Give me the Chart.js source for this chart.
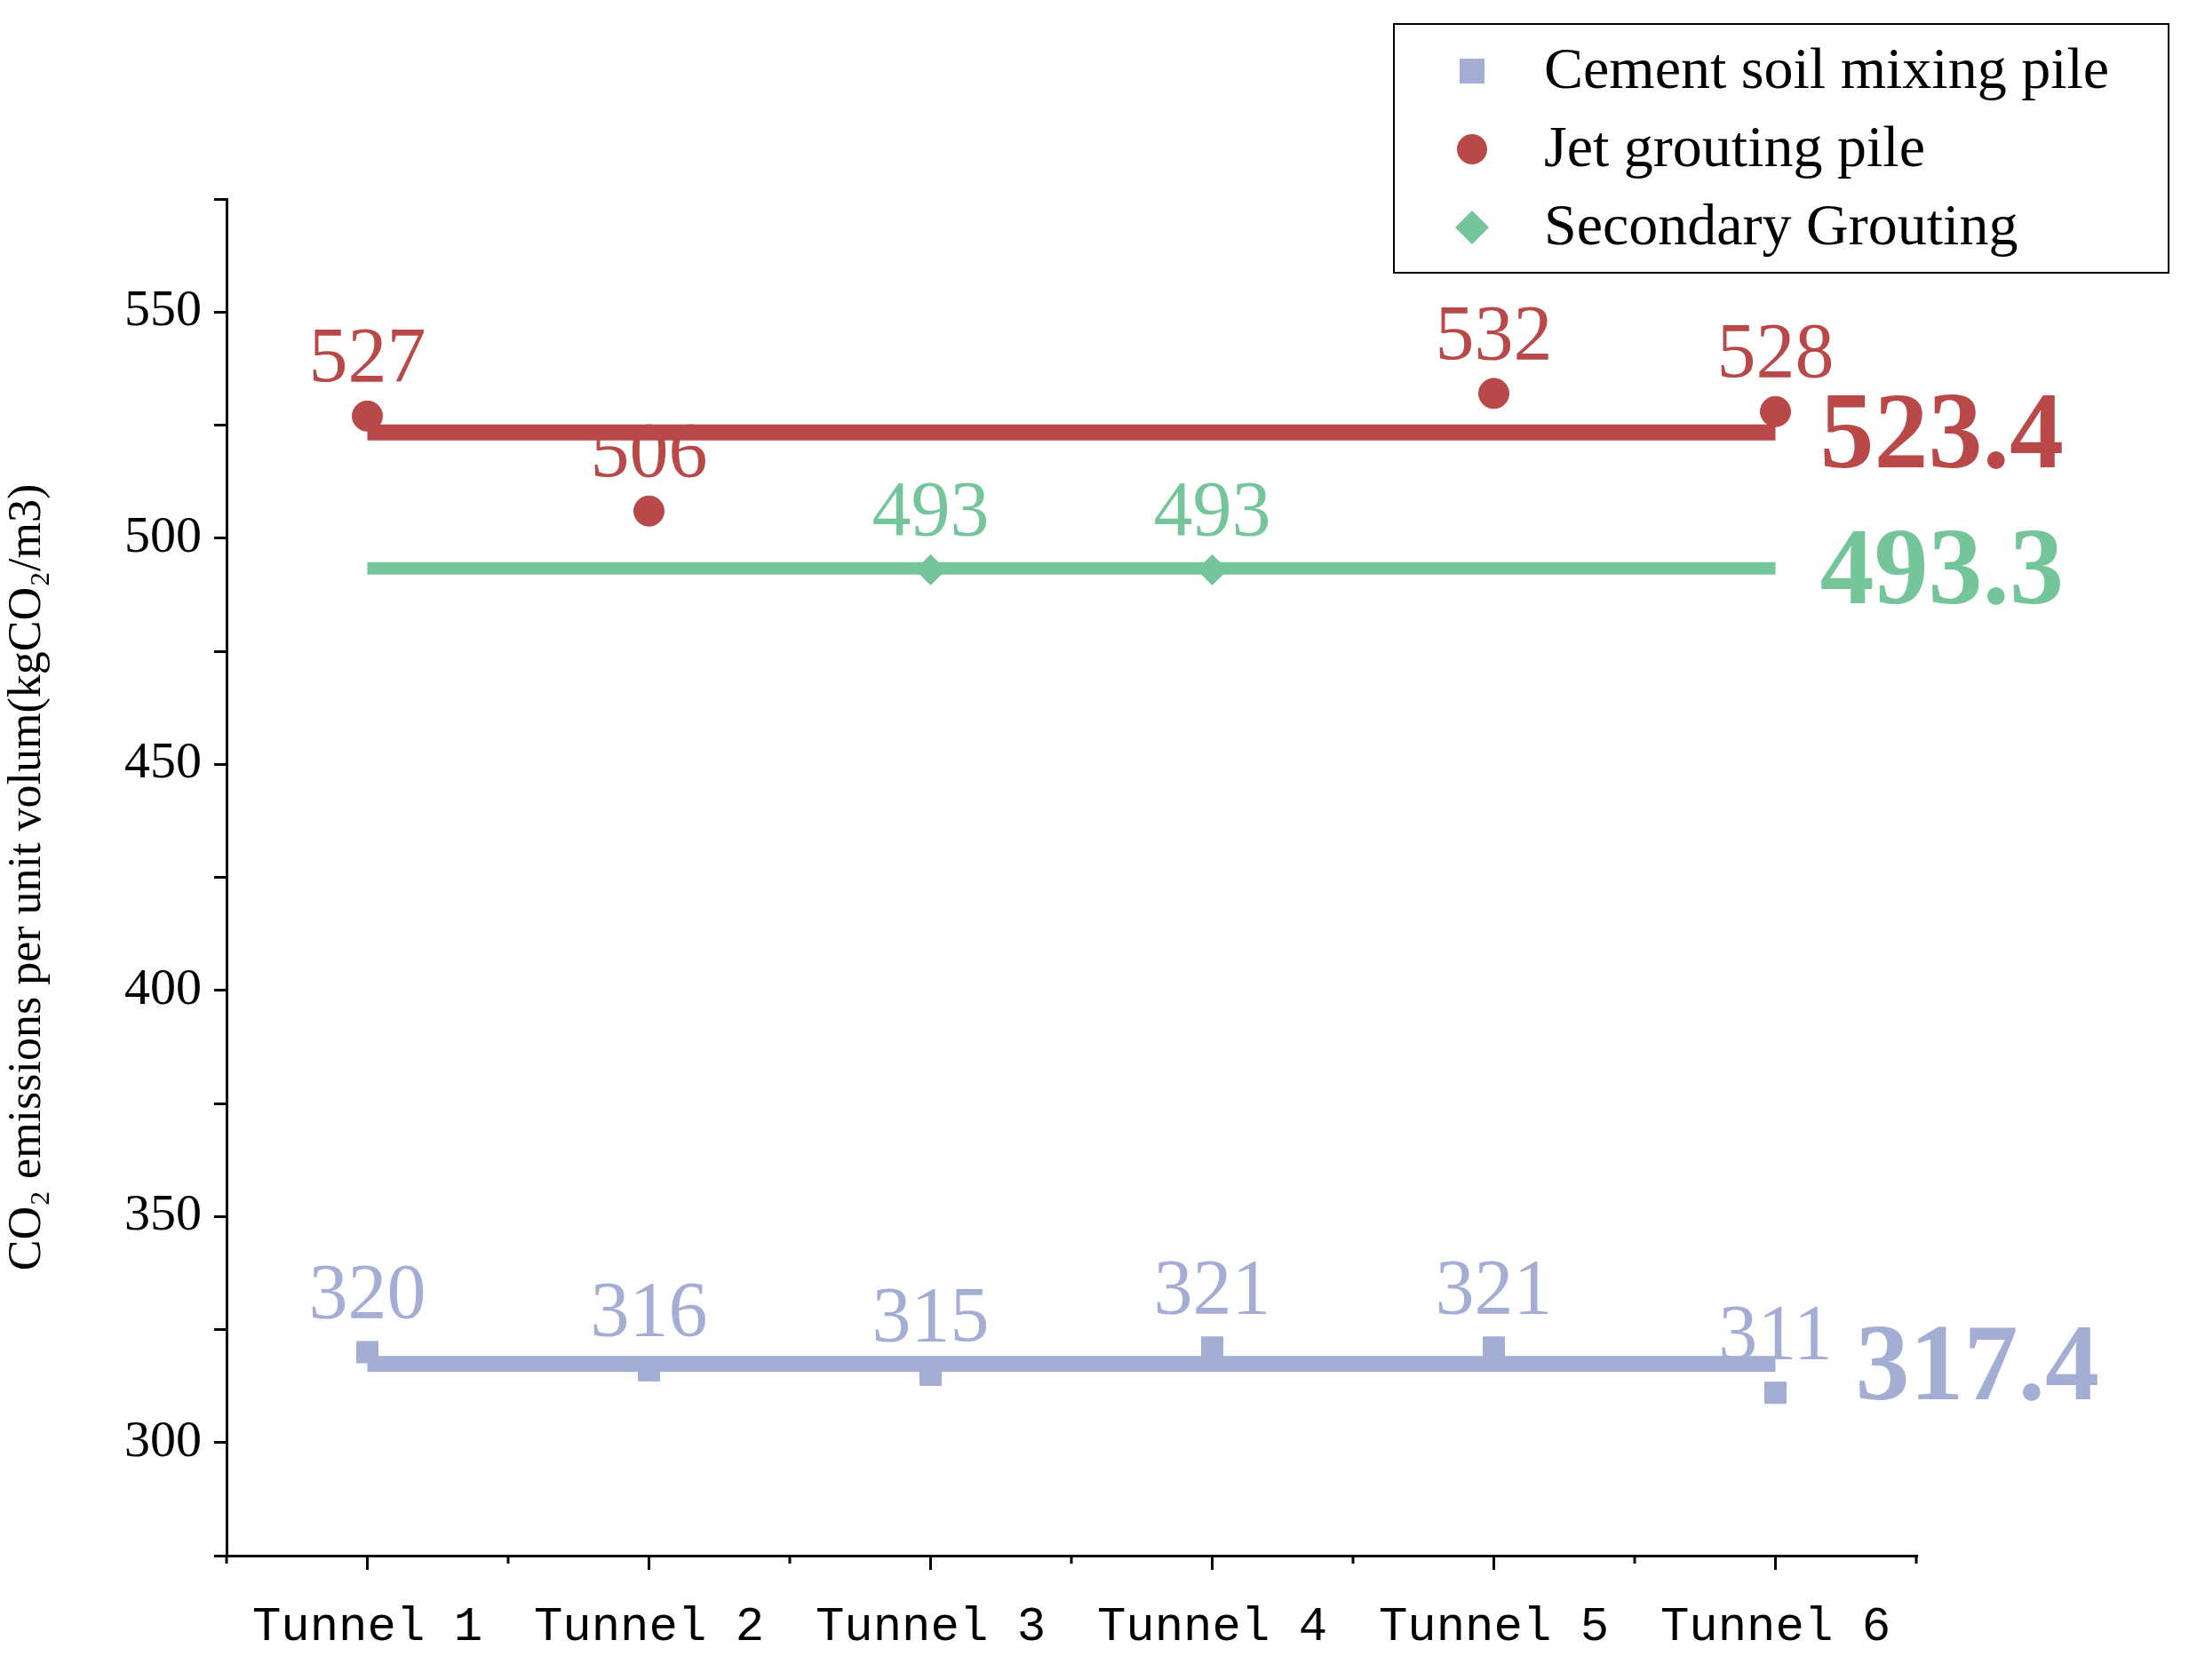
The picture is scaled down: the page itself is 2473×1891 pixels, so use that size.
<!DOCTYPE html>
<html><head><meta charset="utf-8">
<script src="https://cdn.jsdelivr.net/npm/chart.js@4"></script>
<style>html,body{margin:0;background:#fff}#wrap{width:2473px;height:1891px}</style>
</head><body><div id="wrap"><canvas id="c"></canvas></div>
<script>
  // data
  const tunnels = ["Tunnel 1", "Tunnel 2", "Tunnel 3", "Tunnel 4", "Tunnel 5", "Tunnel 6"];
  const cementPile = [320, 316, 315, 321, 321, 311];
  const jetPile = [527, 506, null, null, 532, 528];
  const secondaryGrout = [null, null, 493, 493, null, null];
  const means = { cement: 317.4, jet: 523.4, secondary: 493.3 };

  const cBlue = "#a4add3", cRed = "#b94848", cGreen = "#74c59a";
  const serif = "'Liberation Serif', 'DejaVu Serif', serif";

  const flat = v => tunnels.map(() => v);

  // value labels above points + mean labels at right + framed legend
  const extras = {
    id: "extras",
    afterDatasetsDraw(chart) {
      const ctx = chart.ctx;
      const x = chart.scales.x, y = chart.scales.y;
      ctx.save();
      // minor ticks between categories
      ctx.strokeStyle = "#000"; ctx.lineWidth = 3;
      for (let i = 0; i <= tunnels.length; i++) {
        const px = x.getPixelForValue(i) - (x.getPixelForValue(1) - x.getPixelForValue(0)) / 2;
        ctx.beginPath(); ctx.moveTo(px, chart.chartArea.bottom); ctx.lineTo(px, chart.chartArea.bottom + 9); ctx.stroke();
      }
      ctx.textAlign = "center";
      ctx.textBaseline = "bottom";
      ctx.font = "88px " + serif;
      [[cementPile, cBlue], [jetPile, cRed], [secondaryGrout, cGreen]].forEach(([arr, col]) => {
        ctx.fillStyle = col;
        arr.forEach((v, i) => {
          if (v == null) return;
          ctx.fillText(String(v), x.getPixelForValue(i), y.getPixelForValue(v) - 18);
        });
      });
      ctx.font = "bold 122px " + serif;
      ctx.textAlign = "left";
      ctx.textBaseline = "middle";
      const xr = x.getPixelForValue(5);
      ctx.fillStyle = cRed; ctx.fillText(means.jet.toFixed(1), xr + 50, y.getPixelForValue(means.jet) + 8);
      ctx.fillStyle = cGreen; ctx.fillText(means.secondary.toFixed(1), xr + 50, y.getPixelForValue(means.secondary) + 8);
      ctx.fillStyle = cBlue; ctx.fillText(means.cement.toFixed(1), xr + 90, y.getPixelForValue(means.cement) + 8);

      // legend box
      ctx.strokeStyle = "#000"; ctx.lineWidth = 2;
      ctx.strokeRect(1569, 27, 872, 280);
      const items = [["Cement soil mixing pile", cBlue, "rect"], ["Jet grouting pile", cRed, "circle"], ["Secondary Grouting", cGreen, "diamond"]];
      ctx.font = "66px " + serif;
      items.forEach(([t, col, shape], i) => {
        const cy = 80 + i * 88, cx = 1657;
        ctx.fillStyle = col;
        ctx.beginPath();
        if (shape === "rect") ctx.rect(cx - 14, cy - 14, 28, 28);
        else if (shape === "circle") ctx.arc(cx, cy, 17, 0, Math.PI * 2);
        else { ctx.moveTo(cx, cy - 19); ctx.lineTo(cx + 19, cy); ctx.lineTo(cx, cy + 19); ctx.lineTo(cx - 19, cy); ctx.closePath(); }
        ctx.fill();
        ctx.fillStyle = "#000";
        ctx.fillText(t, 1738, cy + 2);
      });
      ctx.restore();
    }
  };

  new Chart(document.getElementById("c"), {
    type: "line",
    data: {
      labels: tunnels,
      datasets: [
        { label: "jet mean", data: flat(means.jet), borderColor: cRed, borderWidth: 18, pointRadius: 0, order: 5 },
        { label: "sec mean", data: flat(means.secondary), borderColor: cGreen, borderWidth: 14, pointRadius: 0, order: 5 },
        { label: "cement mean", data: flat(means.cement), borderColor: cBlue, borderWidth: 18, pointRadius: 0, order: 5 },
        { label: "Cement soil mixing pile", data: cementPile, showLine: false, pointStyle: "rect", pointRadius: 17, backgroundColor: cBlue, borderColor: cBlue, order: 1 },
        { label: "Jet grouting pile", data: jetPile, showLine: false, pointStyle: "circle", pointRadius: 17, backgroundColor: cRed, borderColor: cRed, order: 1 },
        { label: "Secondary Grouting", data: secondaryGrout, showLine: false, pointStyle: "rectRot", pointRadius: 17, backgroundColor: cGreen, borderColor: cGreen, order: 1 }
      ]
    },
    options: {
      responsive: true,
      maintainAspectRatio: false,
      animation: false,
      layout: { padding: { top: 224, right: 316, left: 0, bottom: 0 } },
      plugins: { legend: { display: false }, tooltip: { enabled: false } },
      scales: {
        x: {
          offset: true,
          grid: { display: true, drawOnChartArea: false, offset: false, color: "#000", lineWidth: 3, tickLength: 16 },
          border: { color: "#000", width: 3 },
          ticks: { color: "#000", font: { family: "'Liberation Mono', 'DejaVu Sans Mono', monospace", size: 54 }, padding: 32 },
          afterFit(s) { s.height = 140; }
        },
        y: {
          min: 275, max: 575,
          grid: { display: true, drawOnChartArea: false, color: "#000", lineWidth: 3, tickLength: 14 },
          border: { color: "#000", width: 3 },
          ticks: { stepSize: 25, color: "#000", font: { family: serif, size: 58 }, padding: 14,
            callback: v => (v % 50 === 0 && v >= 300 && v <= 550) ? v : "" },
          title: { display: true, text: "CO₂ emissions per unit volum(kgCO₂/m3)", color: "#000", font: { family: serif, size: 52 }, padding: 0 },
          afterFit(s) { s.width = 255; }
        }
      }
    },
    plugins: [extras]
  });
</script>
</body></html>
